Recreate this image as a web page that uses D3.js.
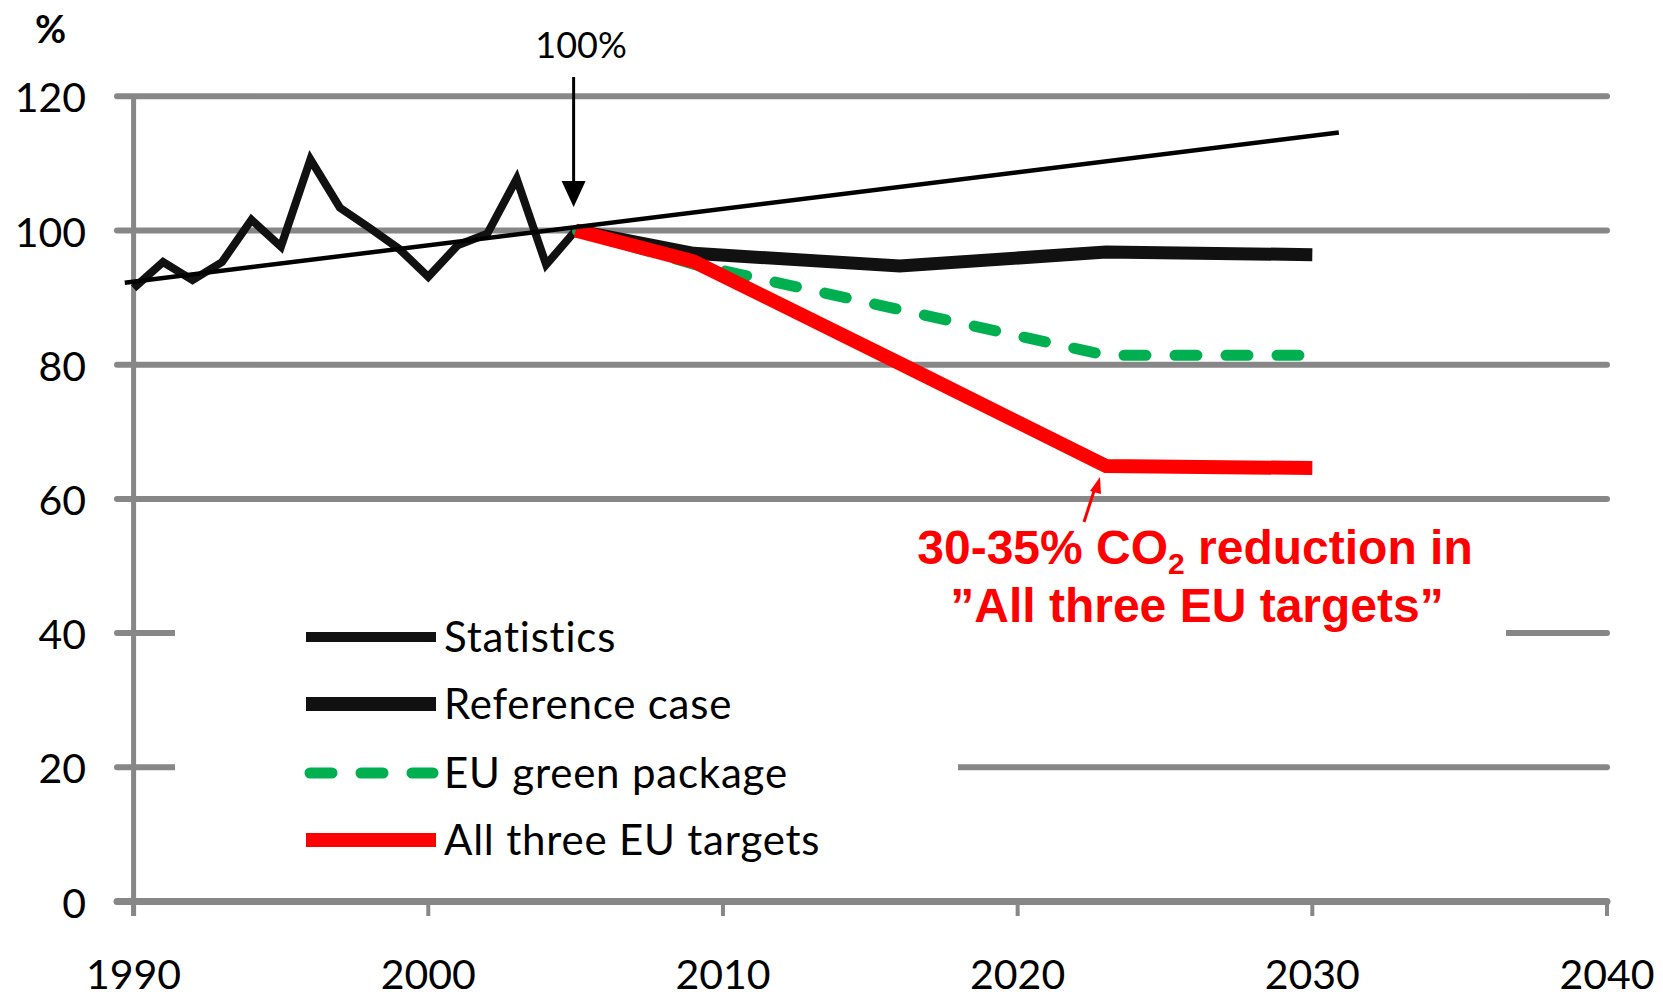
<!DOCTYPE html>
<html><head><meta charset="utf-8">
<script src="https://cdn.jsdelivr.net/npm/d3@7"></script>
<style>
html,body{margin:0;padding:0;background:#fff;}
svg{display:block;}
</style></head>
<body>
<svg id="chart" width="1663" height="999"></svg>
<script>
// ---- data ----
const statYears = [1990,1991,1992,1993,1994,1995,1996,1997,1998,1999,2000,2001,2002,2003,2004,2005];
const statValues = [91.4,95.3,92.6,95.3,101.6,97.6,110.6,103.4,100.4,97.3,93.1,97.8,99.5,107.7,94.9,100];
const trendYears = [1989.7, 2030.9];
const trendValues = [92.2, 114.6];
const scenYears = [2005, 2009, 2016, 2023, 2030];
const refValues = [100, 96.6, 94.7, 96.8, 96.4];
const greenValues = [100, 95.0, 88.2, 81.4, 81.4];
const redValues = [100, 95.4, 80.2, 64.9, 64.6];
const xTicks = [1990, 2000, 2010, 2020, 2030, 2040];
const yTicks = [0, 20, 40, 60, 80, 100, 120];
const legendLabels = ["Statistics", "Reference case", "EU green package", "All three EU targets"];
const baseYear = 2005;

const GRAY = "#878787", RED = "#ff0000", GREEN = "#00b050", BLACK = "#111111";
const svg = d3.select("#chart");
const x = d3.scaleLinear().domain([1990, 2040]).range([133.6, 1607]);
const y = d3.scaleLinear().domain([0, 120]).range([901.5, 96.3]);

// gridlines
const grid = svg.append("g");
grid.selectAll("line").data(yTicks.filter(d => d > 0)).join("line")
  .attr("x1", 117).attr("x2", x(2040))
  .attr("y1", d => y(d)).attr("y2", d => y(d))
  .attr("stroke", GRAY).attr("stroke-width", 6).attr("stroke-linecap", "round");

// y axis (vertical)
svg.append("line").attr("x1", x(1990)).attr("x2", x(1990)).attr("y1", y(120)).attr("y2", 916)
  .attr("stroke", GRAY).attr("stroke-width", 5);
// x axis ticks
svg.append("g").selectAll("line").data(xTicks).join("line")
  .attr("x1", d => x(d)).attr("x2", d => x(d)).attr("y1", y(0)).attr("y2", 916)
  .attr("stroke", GRAY).attr("stroke-width", 4);
// zero axis line
svg.append("line").attr("x1", 117).attr("x2", x(2040)).attr("y1", y(0)).attr("y2", y(0))
  .attr("stroke", GRAY).attr("stroke-width", 7).attr("stroke-linecap", "round");

// white boxes (legend + annotation) hiding gridlines
svg.append("rect").attr("x", 175).attr("y", 590).attr("width", 783).attr("height", 285).attr("fill", "#fff");
svg.append("rect").attr("x", 900).attr("y", 507).attr("width", 606).attr("height", 140).attr("fill", "#fff");

// axis labels
const tickFont = "Lato, 'Open Sans', sans-serif";
svg.append("g").selectAll("text").data(yTicks).join("text")
  .attr("x", 86).attr("y", d => y(d) + 16)
  .attr("text-anchor", "end").attr("font-family", tickFont).attr("font-size", 41).attr("fill", "#000")
  .text(d => d);
svg.append("g").selectAll("text").data(xTicks).join("text")
  .attr("x", d => x(d)).attr("y", 989)
  .attr("text-anchor", "middle").attr("font-family", tickFont).attr("font-size", 41).attr("fill", "#000")
  .text(d => d);
svg.append("text").attr("x", 35).attr("y", 43).attr("font-family", tickFont).attr("font-weight", "bold")
  .attr("font-size", 38).text("%");

// lines
const line = (xs, vs) => d3.line().x((d, i) => x(xs[i])).y(d => y(d))(vs);
svg.append("path").attr("d", line(statYears, statValues)).attr("fill", "none")
  .attr("stroke", BLACK).attr("stroke-width", 8).attr("stroke-linejoin", "miter").attr("stroke-miterlimit", 6);
svg.append("path").attr("d", line(scenYears, refValues)).attr("fill", "none")
  .attr("stroke", BLACK).attr("stroke-width", 13).attr("stroke-linejoin", "miter");
svg.append("path").attr("d", line(scenYears, greenValues)).attr("fill", "none")
  .attr("stroke", GREEN).attr("stroke-width", 11).attr("stroke-dasharray", "22 29").attr("stroke-dashoffset", -2)
  .attr("stroke-linecap", "round");
svg.append("path").attr("d", line(scenYears, redValues)).attr("fill", "none")
  .attr("stroke", RED).attr("stroke-width", 14).attr("stroke-linejoin", "miter");
svg.append("path").attr("d", line(trendYears, trendValues)).attr("fill", "none")
  .attr("stroke", "#000").attr("stroke-width", 4.5);

// 100% arrow
const ax = x(baseYear) - 2;
svg.append("line").attr("x1", ax).attr("x2", ax).attr("y1", 77).attr("y2", 185)
  .attr("stroke", "#000").attr("stroke-width", 3);
svg.append("path").attr("d", `M${ax-12},181 L${ax+12},181 L${ax},207 Z`).attr("fill", "#000");
svg.append("text").attr("x", 581).attr("y", 58).attr("text-anchor", "middle")
  .attr("font-family", tickFont).attr("font-size", 36).text("100%");

// legend
const lg = svg.append("g");
const legendY = [637, 704, 773, 840];
const legendStyles = [
  {c: BLACK, w: 10, dash: null},
  {c: BLACK, w: 14, dash: null},
  {c: GREEN, w: 11, dash: "22 29"},
  {c: RED, w: 14, dash: null}
];
legendLabels.forEach((lab, i) => {
  const s = legendStyles[i];
  const l = lg.append("line").attr("x1", i === 2 ? 310 : 306).attr("x2", i === 2 ? 433 : 436)
    .attr("y1", legendY[i]).attr("y2", legendY[i])
    .attr("stroke", s.c).attr("stroke-width", s.w);
  if (s.dash) l.attr("stroke-dasharray", s.dash).attr("stroke-linecap", "round");
  lg.append("text").attr("x", 444).attr("y", legendY[i] + 15)
    .attr("font-family", tickFont).attr("font-size", 42).attr("letter-spacing", 0.8)
    .attr("fill", "#000").text(lab);
});

// annotation
const ann = svg.append("g").attr("font-family", "'Liberation Sans', Arial, sans-serif")
  .attr("font-weight", "bold").attr("fill", RED);
const t1 = ann.append("text").attr("x", 1195).attr("y", 564).attr("text-anchor", "middle").attr("font-size", 48);
t1.append("tspan").text("30-35% CO");
t1.append("tspan").attr("font-size", 30).attr("dy", 10).text("2");
t1.append("tspan").attr("dy", -10).text(" reduction in");
ann.append("text").attr("x", 1197).attr("y", 622).attr("text-anchor", "middle").attr("font-size", 48)
  .text("\u201DAll three EU targets\u201D");
// red arrow
svg.append("line").attr("x1", 1084).attr("y1", 522).attr("x2", 1095).attr("y2", 488)
  .attr("stroke", RED).attr("stroke-width", 3);
svg.append("path").attr("d", "M1090,491 L1101,494 L1100,477 Z").attr("fill", RED);
</script>
</body></html>
